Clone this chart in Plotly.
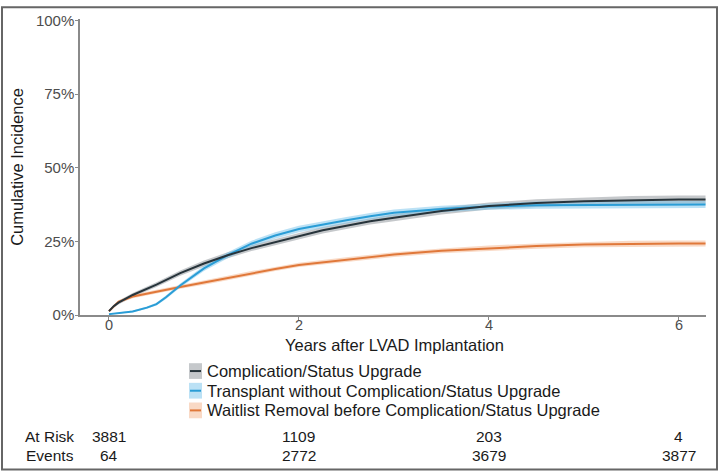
import plotly.graph_objects as go

# ---- data ----
t_black = [0, 0.05, 0.1, 0.25, 0.5, 0.75, 1.0, 1.25, 1.5, 1.75, 2.0, 2.25, 2.5, 2.75, 3.0, 3.5, 4.0, 4.5, 5.0, 5.5, 6.0, 6.28]
y_black = [1.3, 3.0, 4.2, 6.8, 10.3, 14.2, 17.5, 20.3, 22.7, 24.7, 26.8, 28.8, 30.3, 31.8, 33.0, 35.3, 37.0, 38.0, 38.6, 39.0, 39.2, 39.2]
ci_black = [0.3, 0.5, 0.6, 0.7, 0.8, 0.9, 1.0, 1.0, 1.0, 1.0, 1.1, 1.1, 1.1, 1.1, 1.2, 1.2, 1.2, 1.3, 1.3, 1.4, 1.4, 1.4]

t_blue = [0, 0.1, 0.25, 0.4, 0.5, 0.6, 0.75, 1.0, 1.25, 1.5, 1.75, 2.0, 2.25, 2.5, 2.75, 3.0, 3.5, 4.0, 4.5, 5.0, 5.5, 6.0, 6.28]
y_blue = [0.3, 0.6, 1.2, 2.5, 3.7, 6.0, 10.0, 15.8, 20.3, 24.2, 27.0, 29.2, 30.8, 32.2, 33.5, 34.7, 36.0, 36.8, 37.3, 37.4, 37.5, 37.5, 37.5]
ci_blue = [0.1, 0.2, 0.3, 0.4, 0.5, 0.6, 0.7, 0.9, 1.0, 1.0, 1.1, 1.1, 1.1, 1.1, 1.1, 1.1, 1.1, 1.1, 1.2, 1.2, 1.2, 1.2, 1.2]

t_orange = [0, 0.05, 0.1, 0.25, 0.5, 0.75, 1.0, 1.25, 1.5, 1.75, 2.0, 2.5, 3.0, 3.5, 4.0, 4.5, 5.0, 5.5, 6.0, 6.28]
y_orange = [1.3, 3.0, 4.5, 6.3, 8.0, 9.5, 11.0, 12.6, 14.2, 15.6, 17.0, 18.8, 20.5, 21.8, 22.7, 23.4, 23.9, 24.2, 24.3, 24.3]
ci_orange = [0.3, 0.5, 0.5, 0.6, 0.6, 0.6, 0.7, 0.7, 0.7, 0.7, 0.7, 0.8, 0.8, 0.8, 0.9, 0.9, 0.9, 1.0, 1.0, 1.0]

series_names = ["Complication/Status Upgrade",
                "Transplant without Complication/Status Upgrade",
                "Waitlist Removal before Complication/Status Upgrade"]

y_ticks = [0, 25, 50, 75, 100]
y_tick_labels = ["0%", "25%", "50%", "75%", "100%"]
x_ticks = [0, 2, 4, 6]
x_title = "Years after LVAD Implantation"
y_title = "Cumulative Incidence"

risk_times = [0, 2, 4, 6]
at_risk = [3881, 1109, 203, 4]
events = [64, 2772, 3679, 3877]

# ---- styling ----
W, H = 720, 475
ML, MR, MT, MB = 80, 14, 14, 160
PW, PH = W - ML - MR, H - MT - MB

def px(xp):
    return (xp - ML) / PW

def py(yp):
    return (H - MB - yp) / PH

line_cols = ["#27343b", "#2a9dd6", "#e0783a"]
band_cols = ["rgba(150,155,160,0.55)", "rgba(120,195,235,0.5)", "rgba(244,180,140,0.5)"]
FONT = "Liberation Sans, Arial, sans-serif"

fig = go.Figure()

datasets = [(t_black, y_black, ci_black), (t_blue, y_blue, ci_blue), (t_orange, y_orange, ci_orange)]

for i, (t, y, ci) in enumerate(datasets):
    lo = [a - b for a, b in zip(y, ci)]
    hi = [a + b for a, b in zip(y, ci)]
    fig.add_trace(go.Scatter(x=t, y=lo, mode="lines", line=dict(width=0, color=band_cols[i]),
                             showlegend=False, hoverinfo="skip"))
    fig.add_trace(go.Scatter(x=t, y=hi, mode="lines", line=dict(width=0, color=band_cols[i]),
                             fill="tonexty", fillcolor=band_cols[i], showlegend=False, hoverinfo="skip"))

for i in [2, 1, 0]:
    t, y, ci = datasets[i]
    fig.add_trace(go.Scatter(x=t, y=y, mode="lines", name=series_names[i],
                             line=dict(color=line_cols[i], width=2), showlegend=False))

shapes = []
annotations = []

# x-axis title
annotations.append(dict(xref="paper", yref="paper", x=px(394), y=py(345), text=x_title,
                        showarrow=False, xanchor="center", yanchor="middle",
                        font=dict(family=FONT, size=16.5, color="#1a1a1a")))

# manual legend
row_y = [372, 392, 412]
for i, name in enumerate(series_names):
    yc = row_y[i]
    shapes.append(dict(type="rect", xref="paper", yref="paper",
                       x0=px(189), x1=px(202), y0=py(yc + 8), y1=py(yc - 8),
                       fillcolor=band_cols[i], line=dict(width=0)))
    shapes.append(dict(type="line", xref="paper", yref="paper",
                       x0=px(190), x1=px(201), y0=py(yc), y1=py(yc),
                       line=dict(color=line_cols[i], width=2)))
    annotations.append(dict(xref="paper", yref="paper", x=px(205), y=py(yc),
                            text=name, showarrow=False, xanchor="left", yanchor="middle",
                            font=dict(family=FONT, size=16.5, color="#1a1a1a")))

# risk table
for label, yc in [("At Risk", 439), ("Events", 458)]:
    annotations.append(dict(xref="paper", yref="paper", x=px(76), y=py(yc), text=label,
                            showarrow=False, xanchor="right", yanchor="middle",
                            font=dict(family=FONT, size=15.5, color="#1a1a1a")))
for tval, r, e in zip(risk_times, at_risk, events):
    annotations.append(dict(xref="x", yref="paper", x=tval, y=py(439), text=str(r),
                            showarrow=False, xanchor="center", yanchor="middle",
                            font=dict(family=FONT, size=15.5, color="#1a1a1a")))
    annotations.append(dict(xref="x", yref="paper", x=tval, y=py(458), text=str(e),
                            showarrow=False, xanchor="center", yanchor="middle",
                            font=dict(family=FONT, size=15.5, color="#1a1a1a")))

# outer frame
shapes.append(dict(type="rect", xref="paper", yref="paper",
                   x0=px(2), x1=px(717), y0=py(2), y1=py(472),
                   line=dict(color="#666666", width=2), fillcolor="rgba(0,0,0,0)", layer="above"))

fig.update_layout(
    width=W, height=H,
    margin=dict(l=ML, r=MR, t=MT, b=MB),
    paper_bgcolor="white", plot_bgcolor="white",
    showlegend=False,
    font=dict(family=FONT, size=15, color="#4d4d4d"),
    xaxis=dict(range=[-0.305, 6.285], tickvals=x_ticks, showgrid=False, zeroline=False,
               showline=True, linecolor="#8a8a8a", linewidth=1.5,
               ticks="outside", ticklen=3, tickcolor="#8a8a8a", ticklabelstandoff=-7,
               tickfont=dict(family=FONT, size=14.5, color="#4d4d4d")),
    yaxis=dict(range=[0, 100.5], tickvals=y_ticks, ticktext=y_tick_labels, showgrid=False,
               zeroline=False, showline=True, linecolor="#8a8a8a", linewidth=1.5,
               ticks="outside", ticklen=3, tickcolor="#8a8a8a", ticklabelstandoff=-2,
               tickfont=dict(family=FONT, size=15, color="#4d4d4d"),
               title=dict(text=y_title, standoff=8,
                          font=dict(family=FONT, size=16.5, color="#1a1a1a"))),
    shapes=shapes,
    annotations=annotations,
)

fig.write_html("out.html", config={"displayModeBar": False},
               post_script="document.body.style.margin='0';document.body.style.overflow='hidden';")
